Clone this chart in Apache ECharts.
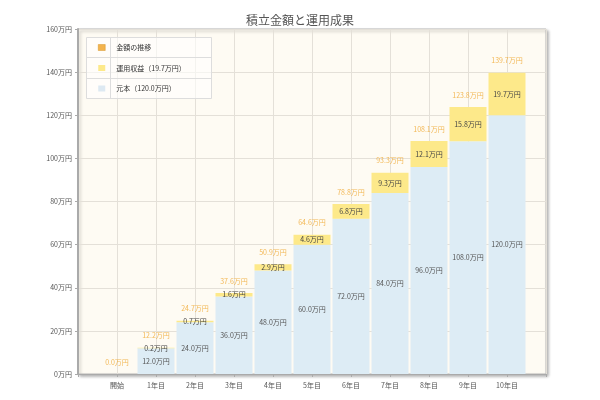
<!DOCTYPE html>
<html><head><meta charset="utf-8">
<script src="https://cdn.jsdelivr.net/npm/echarts@6/dist/echarts.min.js"></script>
<style>html,body{margin:0;padding:0;background:#fff}#c{width:600px;height:400px}</style>
</head><body><div id="c"></div>
<script>
const categories = ['開始','1年目','2年目','3年目','4年目','5年目','6年目','7年目','8年目','9年目','10年目'];
const principal = [0, 12, 24, 36, 48, 60, 72, 84, 96, 108, 120];
const gains = [0, 0.2, 0.7, 1.6, 2.9, 4.6, 6.8, 9.3, 12.1, 15.8, 19.7];
const totals = [0.0, 12.2, 24.7, 37.6, 50.9, 64.6, 78.8, 93.3, 108.1, 123.8, 139.7];
const yTicks = {min: 0, max: 160, interval: 20};

const pad = a => [null].concat(a, [null]);
const cats = [''].concat(categories, ['']);
const font = '"Noto Sans CJK JP", sans-serif';
const fmt = p => (p.value ? Number(p.value).toFixed(1) + '万円' : '');

const chart = echarts.init(document.getElementById('c'), null, {renderer: 'canvas'});
chart.setOption({
  animation: false,
  backgroundColor: '#ffffff',
  textStyle: {fontFamily: font},
  title: {
    text: '積立金額と運用成果', left: 'center', top: 9,
    textStyle: {fontSize: 12, fontWeight: 'normal', color: '#555', fontFamily: font}
  },
  grid: {
    left: 78, right: 54, top: 29, bottom: 26, show: true,
    backgroundColor: '#fefbf3', borderColor: '#b8b8b8', borderWidth: 1,
    shadowColor: 'rgba(0,0,0,0.3)', shadowBlur: 3, shadowOffsetX: 2, shadowOffsetY: 2
  },
  graphic: [
    {type: 'rect', z: 1, shape: {x: 86.5, y: 37.5, width: 125, height: 61}, style: {fill: 'rgba(255,255,255,0.6)', stroke: '#ddd', lineWidth: 1}},
    {type: 'line', z: 1, shape: {x1: 86.5, y1: 57.5, x2: 211.5, y2: 57.5}, style: {stroke: '#ddd', lineWidth: 1}},
    {type: 'line', z: 1, shape: {x1: 86.5, y1: 78.5, x2: 211.5, y2: 78.5}, style: {stroke: '#ddd', lineWidth: 1}},
    {type: 'line', z: 1, shape: {x1: 110.5, y1: 37.5, x2: 110.5, y2: 98.5}, style: {stroke: '#ddd', lineWidth: 1}}
  ],
  legend: {
    orient: 'vertical', left: 93, top: 37.5, z: 5,
    icon: 'rect', itemWidth: 7, itemHeight: 6, itemGap: 10.5,
    textStyle: {fontSize: 7, color: '#333', lineHeight: 10, padding: [0, 0, 0, 6], fontFamily: font},
    data: [
      {name: '金額の推移', itemStyle: {color: '#f0a020', borderColor: '#d08a10', borderWidth: 0.5}},
      {name: '運用収益（19.7万円）', itemStyle: {color: '#fde98a'}},
      {name: '元本（120.0万円）', itemStyle: {color: '#dde9f2'}}
    ]
  },
  xAxis: {
    type: 'category', data: cats, boundaryGap: false,
    axisLine: {lineStyle: {color: '#aaa', width: 1}},
    axisTick: {show: true, length: 3, lineStyle: {color: '#aaa'}, interval: 0},
    axisLabel: {fontSize: 7, color: '#555', margin: 8, interval: 0, fontFamily: font},
    splitLine: {show: true, lineStyle: {color: '#e4e0d8'}}
  },
  yAxis: {
    type: 'value', min: yTicks.min, max: yTicks.max, interval: yTicks.interval,
    axisLine: {show: true, lineStyle: {color: '#aaa', width: 2}},
    axisTick: {show: true, length: 3, lineStyle: {color: '#aaa'}},
    axisLabel: {fontSize: 7, color: '#555', margin: 6, formatter: '{value}万円', fontFamily: font},
    splitLine: {show: true, lineStyle: {color: '#e4e0d8'}}
  },
  series: [
    {
      name: '元本（120.0万円）', type: 'bar', stack: 'a', data: pad(principal), barWidth: 37,
      itemStyle: {color: '#ddecf5'},
      label: {show: true, position: 'inside', fontSize: 7, color: '#555', formatter: fmt}
    },
    {
      name: '運用収益（19.7万円）', type: 'bar', stack: 'a', data: pad(gains), barWidth: 37,
      itemStyle: {color: '#fde98a'},
      label: {show: true, position: 'inside', fontSize: 7, color: '#444', formatter: fmt}
    },
    {
      name: '金額の推移', type: 'scatter', data: pad(totals), symbolSize: 1,
      itemStyle: {color: 'rgba(0,0,0,0)'},
      label: {show: true, position: 'top', distance: 8, fontSize: 7, color: '#f0a830',
        formatter: p => Number(p.value).toFixed(1) + '万円'}
    }
  ]
});
</script></body></html>
